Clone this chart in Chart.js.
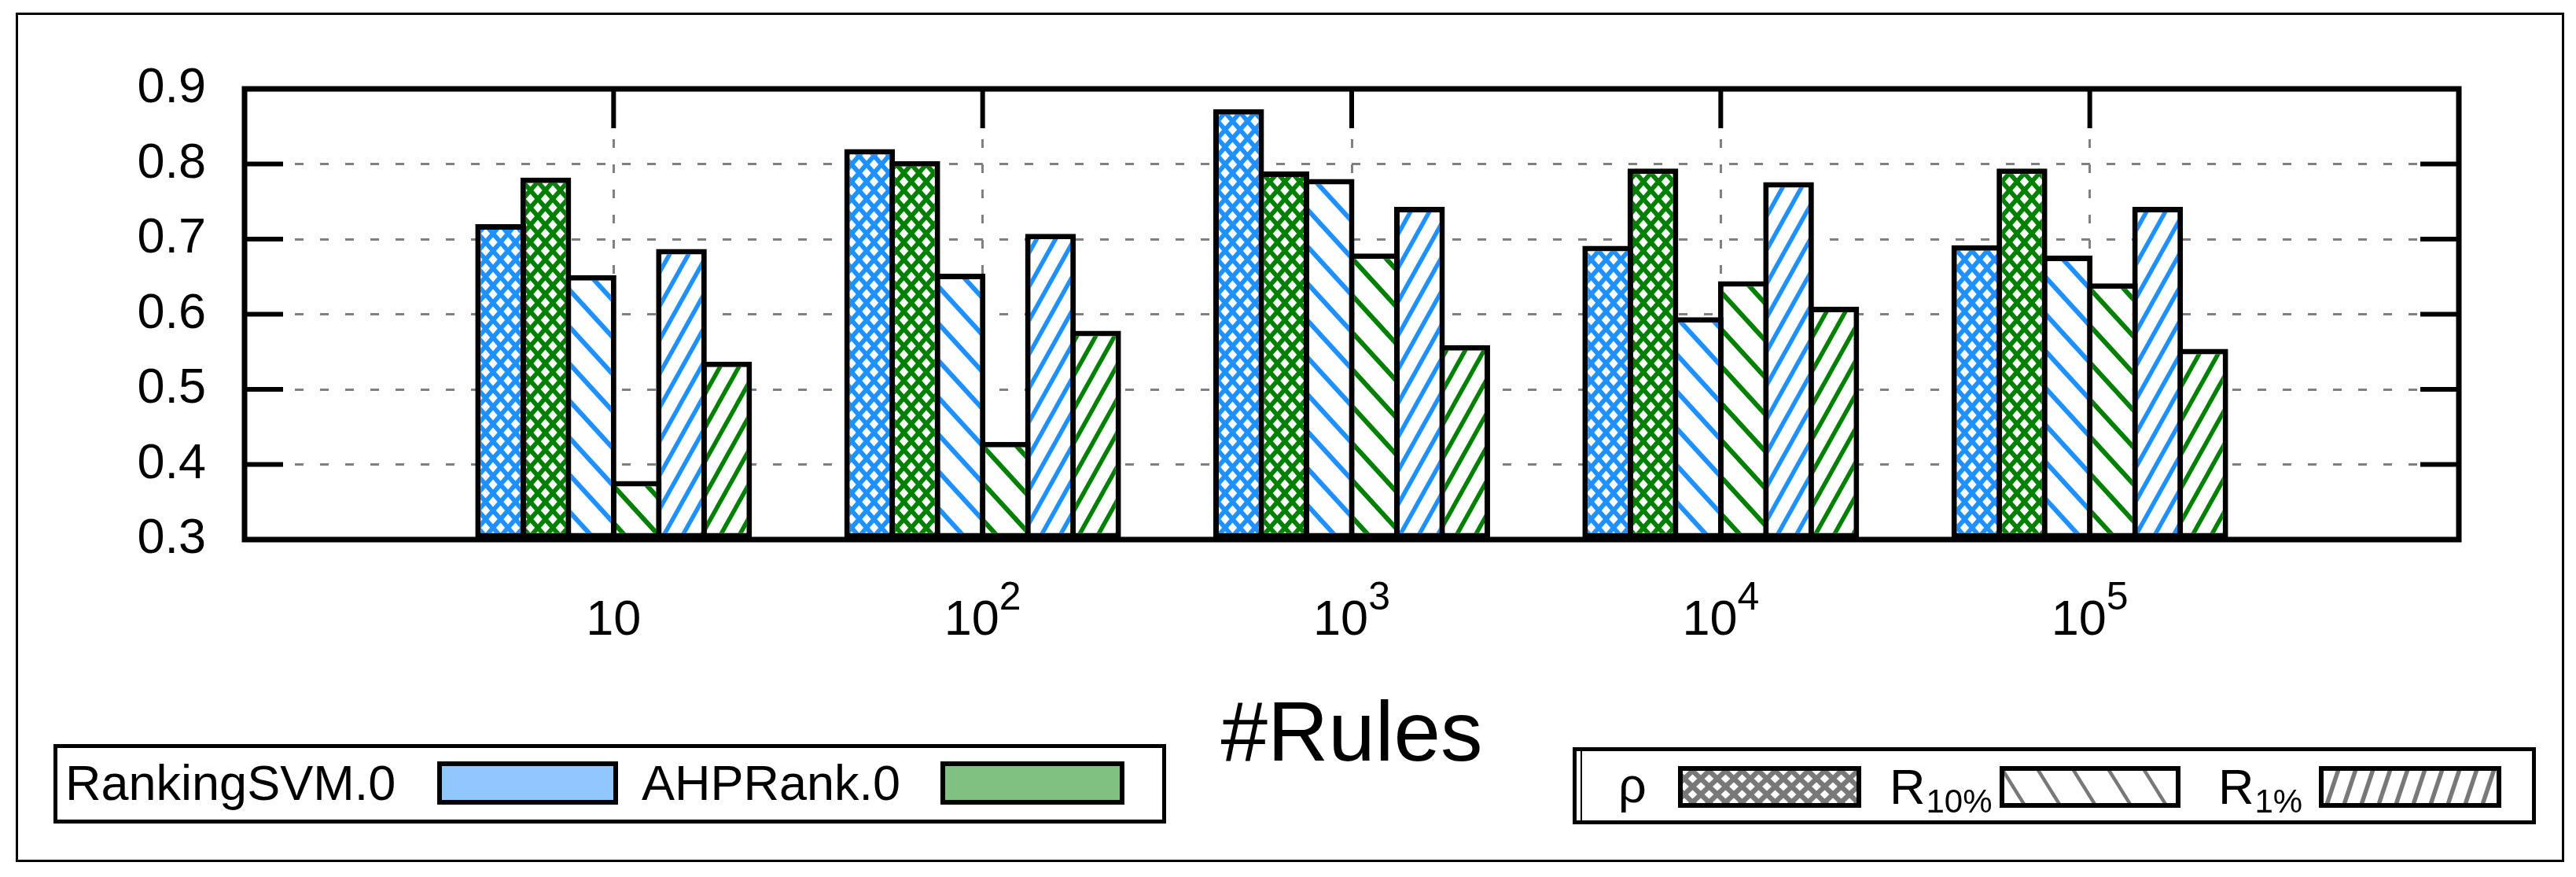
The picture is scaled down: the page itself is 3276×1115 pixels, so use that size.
<!DOCTYPE html>
<html>
<head>
<meta charset="utf-8">
<script src="https://cdn.jsdelivr.net/npm/chart.js@4.4.1/dist/chart.umd.min.js"></script>
<style>
  html, body { margin: 0; padding: 0; background: #fff; }
  canvas { display: block; }
</style>
</head>
<body>
<canvas id="grafico" width="3276" height="1115"></canvas>
<script>
// valores
const categories = ['10', '10^2', '10^3', '10^4', '10^5'];
const methods = ['RankingSVM.0', 'AHPRank.0'];
const metrics = ['ρ', 'R_10%', 'R_1%'];
const rankingSvmRho = [0.720, 0.820, 0.873, 0.691, 0.692];
const ahpRankRho    = [0.782, 0.804, 0.790, 0.794, 0.794];
const rankingSvmR10 = [0.652, 0.654, 0.780, 0.596, 0.678];
const ahpRankR10    = [0.378, 0.430, 0.681, 0.644, 0.641];
const rankingSvmR1  = [0.687, 0.707, 0.743, 0.776, 0.743];
const ahpRankR1     = [0.537, 0.578, 0.559, 0.610, 0.554];
const yMin = 0.3, yMax = 0.9, yStep = 0.1;
const xTitle = '#Rules';

const FONT = "'Liberation Sans', Arial, sans-serif";
const AZUL = '#1E90FF', VERDE = '#008000', CINZA = '#787878';

function tile(w, h, draw) {
  const c = document.createElement('canvas');
  c.width = w; c.height = h;
  const g = c.getContext('2d');
  g.fillStyle = '#fff';
  g.fillRect(0, 0, w, h);
  draw(g, w, h);
  return g.createPattern(c, 'repeat');
}

// losangos brancos sobre a cor
function crosshatch(cor, w, h, k) {
  return tile(w, h, (g) => {
    g.fillStyle = cor;
    g.fillRect(0, 0, w, h);
    g.fillStyle = '#fff';
    const rx = w * k, ry = h * k;
    [[w / 2, h / 2], [0, 0], [w, 0], [0, h], [w, h]].forEach(([cx, cy]) => {
      g.beginPath();
      g.moveTo(cx - rx, cy); g.lineTo(cx, cy - ry);
      g.lineTo(cx + rx, cy); g.lineTo(cx, cy + ry);
      g.closePath(); g.fill();
    });
  });
}

// listras diagonais, "sobe" = '/'
function hatch(cor, periodo, inclinacao, lw, sobe) {
  const h = Math.round(periodo * inclinacao);
  return tile(periodo, h, (g) => {
    g.strokeStyle = cor;
    g.lineWidth = lw;
    for (const dx of [-periodo, 0, periodo]) {
      g.beginPath();
      if (sobe) { g.moveTo(dx - periodo, 2 * h); g.lineTo(dx + 2 * periodo, -h); }
      else { g.moveTo(dx - periodo, -h); g.lineTo(dx + 2 * periodo, 2 * h); }
      g.stroke();
    }
  });
}

const series = [
  { label: methods[0] + ' ' + metrics[0], data: rankingSvmRho, fill: crosshatch(AZUL, 19, 22, 0.3) },
  { label: methods[1] + ' ' + metrics[0], data: ahpRankRho,    fill: crosshatch(VERDE, 19, 22, 0.3) },
  { label: methods[0] + ' ' + metrics[1], data: rankingSvmR10, fill: hatch(AZUL, 43, 1.1, 6, false) },
  { label: methods[1] + ' ' + metrics[1], data: ahpRankR10,    fill: hatch(VERDE, 43, 1.1, 6, false) },
  { label: methods[0] + ' ' + metrics[2], data: rankingSvmR1,  fill: hatch(AZUL, 24, 1.8, 5.5, true) },
  { label: methods[1] + ' ' + metrics[2], data: ahpRankR1,     fill: hatch(VERDE, 24, 1.8, 5.5, true) },
];

const legendaCores = ['#8FC8FF', '#80C080'];
const legendaPadroes = [
  crosshatch(CINZA, 21, 20, 0.28),
  hatch(CINZA, 45, 1.6, 4.5, false),
  hatch(CINZA, 22, 3, 5.5, true),
];

function swatch(ctx, x0, y0, x1, y1, fill) {
  ctx.fillStyle = fill;
  ctx.fillRect(x0, y0, x1 - x0, y1 - y0);
  ctx.lineWidth = 6;
  ctx.strokeStyle = '#000';
  ctx.strokeRect(x0 + 3, y0 + 3, x1 - x0 - 6, y1 - y0 - 6);
}

// moldura estilo gnuplot, rotulos do eixo x, titulo e legendas
const moldura = {
  id: 'moldura',
  afterDraw(chart) {
    const { ctx, chartArea: a, scales: { x, y } } = chart;
    ctx.save();
    ctx.strokeStyle = '#000';
    ctx.lineWidth = 6;
    ctx.beginPath();
    y.ticks.forEach((t) => {
      if (t.value <= yMin + 1e-6 || t.value >= yMax - 1e-6) return;
      const py = y.getPixelForValue(t.value);
      ctx.moveTo(a.left, py); ctx.lineTo(a.left + 49, py);
      ctx.moveTo(a.right, py); ctx.lineTo(a.right - 49, py);
    });
    categories.forEach((_, i) => {
      const px = x.getPixelForValue(i);
      ctx.moveTo(px, a.top); ctx.lineTo(px, a.top + 50);
      ctx.moveTo(px, a.bottom); ctx.lineTo(px, a.bottom - 50);
    });
    ctx.stroke();
    ctx.lineWidth = 7;
    ctx.strokeRect(a.left, a.top, a.right - a.left, a.bottom - a.top);

    ctx.fillStyle = '#000';
    ctx.textBaseline = 'alphabetic';
    ctx.textAlign = 'left';
    categories.forEach((lab, i) => {
      const [base, exp] = lab.split('^');
      ctx.font = `63px ${FONT}`;
      const wb = ctx.measureText(base).width;
      ctx.font = `50px ${FONT}`;
      const we = exp ? ctx.measureText(exp).width : 0;
      const x0 = x.getPixelForValue(i) - (wb + we) / 2;
      ctx.font = `63px ${FONT}`;
      ctx.fillText(base, x0, a.bottom + 121);
      if (exp) {
        ctx.font = `50px ${FONT}`;
        ctx.fillText(exp, x0 + wb, a.bottom + 89);
      }
    });

    ctx.font = `107px ${FONT}`;
    ctx.textAlign = 'center';
    ctx.fillText(xTitle, (a.left + a.right) / 2, 967);

    // legenda dos metodos
    ctx.lineWidth = 5;
    ctx.strokeRect(70.5, 948.5, 1410, 96);
    ctx.textAlign = 'left';
    ctx.font = `63px ${FONT}`;
    ctx.fillStyle = '#000';
    ctx.fillText(methods[0], 83, 1017);
    swatch(ctx, 556, 968, 786, 1023, legendaCores[0]);
    ctx.fillStyle = '#000';
    ctx.fillText(methods[1], 816, 1017);
    swatch(ctx, 1196, 968, 1430, 1023, legendaCores[1]);

    // legenda das metricas
    ctx.lineWidth = 5;
    ctx.strokeStyle = '#000';
    ctx.strokeRect(2002.5, 952.5, 1220, 93);
    ctx.lineWidth = 2;
    ctx.beginPath();
    ctx.moveTo(2011, 952); ctx.lineTo(2011, 1046);
    ctx.stroke();
    const posTexto = [2058, 2403, 2821];
    const posAmostra = [[2134, 2367], [2543, 2773], [2949, 3181]];
    metrics.forEach((m, i) => {
      const [base, sub] = m.split('_');
      ctx.fillStyle = '#000';
      ctx.font = `63px ${FONT}`;
      ctx.fillText(base, posTexto[i], i === 0 ? 1020 : 1022);
      if (sub) {
        const wb = ctx.measureText(base).width;
        ctx.font = `42px ${FONT}`;
        ctx.fillText(sub, posTexto[i] + wb + 1, 1033);
      }
      swatch(ctx, posAmostra[i][0], 974, posAmostra[i][1], 1027, legendaPadroes[i]);
    });

    // borda externa
    ctx.lineWidth = 3;
    ctx.strokeStyle = '#000';
    ctx.strokeRect(21.5, 17.5, 3238, 1077);
    ctx.restore();
  },
};

Chart.defaults.font.family = FONT;
Chart.defaults.color = '#000';

const canvas = document.getElementById('grafico');
new Chart(canvas, {
  type: 'bar',
  data: {
    labels: categories.map((_, i) => i),
    datasets: series.map((s) => ({
      label: s.label,
      data: s.data,
      backgroundColor: s.fill,
      borderColor: '#000',
      borderWidth: 7,
      borderSkipped: false,
      base: yMin,
      categoryPercentage: 0.735,
      barPercentage: 1.122,
    })),
  },
  options: {
    responsive: false,
    animation: false,
    events: [],
    layout: { padding: { left: 0, top: 113, right: 149, bottom: 0 } },
    plugins: { legend: { display: false }, tooltip: { enabled: false } },
    scales: {
      x: {
        type: 'linear',
        min: -1,
        max: 5,
        offset: false,
        ticks: { stepSize: 1, display: false },
        grid: {
          offset: false,
          drawTicks: false,
          lineWidth: 3,
          color: (c) => (c.tick && c.tick.value > -0.5 && c.tick.value < 4.5) ? '#808080' : 'rgba(0,0,0,0)',
        },
        border: { display: false, dash: [11, 21] },
        afterFit: (s) => { s.height = 429; },
      },
      y: {
        min: yMin,
        max: yMax,
        beginAtZero: false,
        ticks: {
          stepSize: yStep,
          padding: 49,
          color: '#000',
          font: { size: 63 },
          callback: (v) => v.toFixed(1),
        },
        grid: {
          drawTicks: false,
          lineWidth: 3,
          color: (c) => (c.tick && c.tick.value > yMin + 0.01 && c.tick.value < yMax - 0.01) ? '#808080' : 'rgba(0,0,0,0)',
        },
        border: { display: false, dash: [11, 21] },
        afterFit: (s) => { s.width = 311; },
      },
    },
  },
  plugins: [moldura],
});
</script>
</body>
</html>
